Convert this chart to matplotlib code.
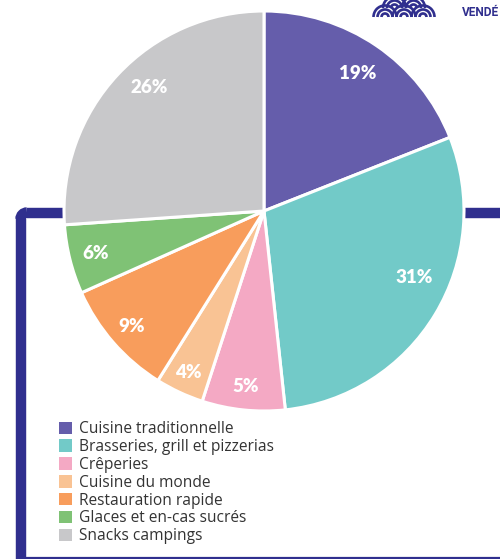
import matplotlib
matplotlib.use("Agg")
import matplotlib.pyplot as plt
from matplotlib.patches import Patch, Arc
import numpy as np

categories = ["Cuisine traditionnelle", "Brasseries, grill et pizzerias", "Crêperies",
              "Cuisine du monde", "Restauration rapide", "Glaces et en-cas sucrés",
              "Snacks campings"]
shares = [19.0, 29.3, 6.7, 3.9, 9.4, 5.6, 26.1]
labels = ["19%", "31%", "5%", "4%", "9%", "6%", "26%"]
colors = ["#655DAB", "#72CAC8", "#F4A9C4", "#F9C394", "#F89D5C", "#7FC275", "#C8C8CA"]
navy = "#302F8E"

W, H = 500, 559
fig = plt.figure(figsize=(W / 100, H / 100), dpi=100)

# background decoration axes in pixel coordinates
bg = fig.add_axes([0, 0, 1, 1], zorder=0)
bg.set_xlim(0, W)
bg.set_ylim(H, 0)
bg.axis("off")
# frame: thick L line with rounded corner, and horizontal line behind pie
bg.plot([20.5, 20.5], [H + 5, 218], color=navy, lw=7.5, solid_capstyle="butt")
bg.add_patch(Arc((27, 219), 13, 13, theta1=180, theta2=270, color=navy, lw=7.5))
bg.plot([27, W + 5], [212.5, 212.5], color=navy, lw=7.5, solid_capstyle="butt")
bg.plot([20, W + 5], [557.5, 557.5], color=navy, lw=1.6, solid_capstyle="butt")
# logo (waves) top right
for cx, cy in [(385, 17), (404, 17), (423, 17), (394.5, 8), (413.5, 8)]:
    for r in [3.5, 7.5, 11.5]:
        bg.add_patch(Arc((cx, cy), 2 * r, 2 * r, theta1=180, theta2=360,
                         color=navy, lw=1.9, zorder=2 if cy > 10 else 1))
bg.text(462, 12, "VENDÉ", color=navy, fontsize=8.6, fontweight="bold",
        family=["Roboto", "DejaVu Sans"], va="center", ha="left")

# pie
ax = fig.add_axes([64 / W, (H - 411) / H, 400 / W, 400 / H], zorder=1)
ax.patch.set_alpha(0)
wedges, _ = ax.pie(shares, colors=colors, startangle=90, counterclock=False,
                   radius=1.0, wedgeprops=dict(edgecolor="white", linewidth=2.2))
ax.set_xlim(-1, 1)
ax.set_ylim(-1, 1)
ax.set_aspect("equal")
dist = [0.83, 0.82, 0.88, 0.89, 0.88, 0.87, 0.845]
shift = [0, 0, 0, 0, 0, 0, -4]
for w, lab, d, s in zip(wedges, labels, dist, shift):
    ang = np.deg2rad((w.theta1 + w.theta2) / 2 + s)
    if lab == "31%":
        ang = np.deg2rad(-24)
    ax.text(d * np.cos(ang), d * np.sin(ang), lab, ha="center", va="center",
            color="white", fontsize=13.5, fontweight="heavy", family="Lato")

handles = [Patch(facecolor=c, edgecolor="none") for c in colors]
leg = fig.legend(handles, categories, loc="upper left",
                 bbox_to_anchor=(56 / W, 1 - 418 / H), frameon=False,
                 prop=dict(family="Open Sans", size=11.2), labelcolor="#333333",
                 handlelength=0.85, handleheight=0.85, handletextpad=0.45,
                 labelspacing=0.12, borderpad=0.2, borderaxespad=0)
leg.set_zorder(3)

fig.savefig("out.png", dpi=100)
